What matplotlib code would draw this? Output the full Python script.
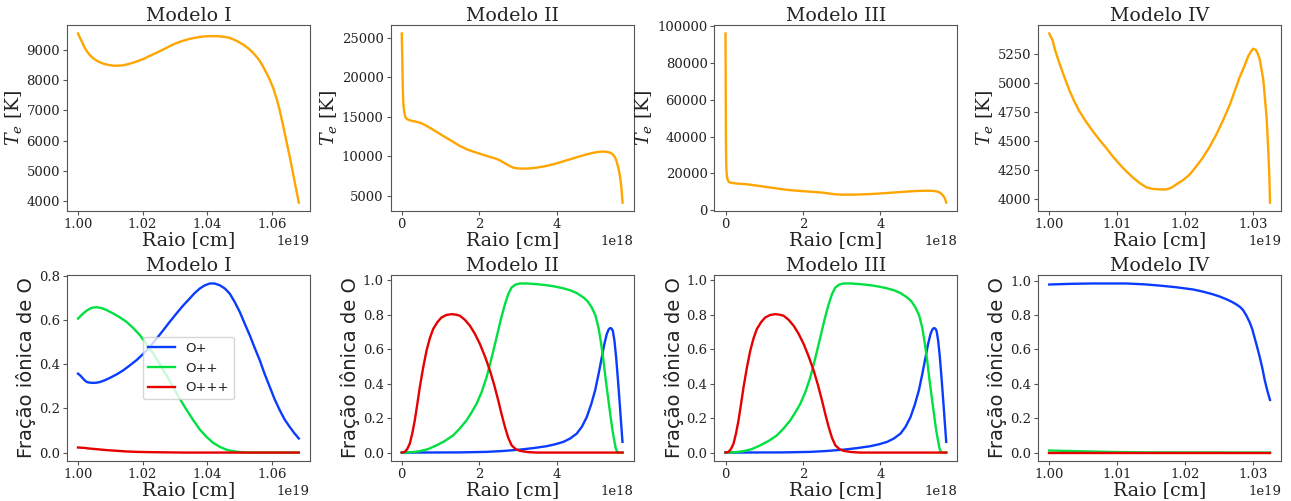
import numpy as np
import matplotlib
matplotlib.use("Agg")
import matplotlib.pyplot as plt
from matplotlib.ticker import MultipleLocator

# ---------------- data ----------------
titles = ["Modelo I", "Modelo II", "Modelo III", "Modelo IV"]

# Top row: electron temperature (radius in units of 1e19 / 1e18 cm)
te1_r = [1.0000, 1.0005, 1.0011, 1.0018, 1.0027, 1.0036, 1.0047, 1.0062, 1.0078, 1.0093,
         1.0109, 1.0125, 1.0140, 1.0155, 1.0171, 1.0186, 1.0202, 1.0222, 1.0243, 1.0270,
         1.0295, 1.0320, 1.0346, 1.0367, 1.0388, 1.0410, 1.0429, 1.0450, 1.0470, 1.0490,
         1.0511, 1.0527, 1.0542, 1.0553, 1.0563, 1.0573, 1.0583, 1.0594, 1.0604, 1.0615,
         1.0625, 1.0635, 1.0645, 1.0656, 1.0666, 1.0675, 1.0684]
te1_t = [9537, 9420, 9285, 9120, 8957, 8830, 8718, 8615, 8541, 8500,
         8476, 8474, 8488, 8525, 8574, 8630, 8695, 8795, 8902, 9040,
         9177, 9280, 9361, 9405, 9439, 9450, 9449, 9432, 9393, 9300,
         9177, 9050, 8902, 8770, 8630, 8450, 8246, 8010, 7754, 7390,
         6990, 6510, 6007, 5460, 4915, 4430, 3951]

te2_r = [0.0, 0.008, 0.017, 0.025, 0.034, 0.045, 0.06, 0.08, 0.10, 0.15, 0.21, 0.33, 0.47,
         0.60, 0.72, 0.90, 1.07, 1.30, 1.50, 1.70, 1.93, 2.10, 2.28, 2.42, 2.53, 2.62, 2.71,
         2.80, 2.88, 3.00, 3.14, 3.30, 3.48, 3.70, 3.91, 4.12, 4.34, 4.56, 4.78, 4.95, 5.12,
         5.26, 5.38, 5.45, 5.51, 5.55, 5.59, 5.63, 5.66, 5.68, 5.70]
te2_t = [25547, 23500, 21210, 19200, 17420, 16400, 15737, 15200, 14895, 14680, 14558, 14430, 14263,
         13980, 13632, 13100, 12579, 11920, 11316, 10850, 10474, 10200, 9926, 9730, 9505, 9250, 9000,
         8760, 8579, 8480, 8453, 8480, 8579, 8760, 9000, 9300, 9632, 9950, 10263, 10470, 10600,
         10600, 10474, 10250, 9842, 9300, 8579, 7600, 6474, 5400, 4158]

te3_r = [0.0, 0.005, 0.01, 0.015, 0.02, 0.03, 0.04, 0.06, 0.09, 0.17, 0.33, 0.47,
         0.60, 0.72, 0.90, 1.07, 1.30, 1.50, 1.70, 1.93, 2.10, 2.28, 2.42, 2.53, 2.62, 2.71,
         2.80, 2.88, 3.00, 3.14, 3.30, 3.48, 3.70, 3.91, 4.12, 4.34, 4.56, 4.78, 4.95, 5.12,
         5.26, 5.38, 5.45, 5.51, 5.55, 5.59, 5.63, 5.66, 5.68, 5.70]
te3_t = [96000, 70000, 41400, 30000, 23400, 20000, 18000, 16300, 15300, 14800, 14430, 14263,
         13980, 13632, 13100, 12579, 11920, 11316, 10850, 10474, 10200, 9926, 9730, 9505, 9250, 9000,
         8760, 8579, 8480, 8453, 8480, 8579, 8760, 9000, 9300, 9632, 9950, 10263, 10470, 10600,
         10600, 10474, 10250, 9842, 9300, 8579, 7600, 6474, 5400, 4158]

te4_r = [1.0000, 1.0005, 1.0008, 1.0012, 1.0016, 1.0020, 1.0025, 1.0030, 1.0037, 1.0044,
         1.0054, 1.0064, 1.0074, 1.0084, 1.0093, 1.0103, 1.0113, 1.0123, 1.0133, 1.0143,
         1.0152, 1.0162, 1.0172, 1.0180, 1.0187, 1.0197, 1.0207, 1.0216, 1.0226, 1.0236,
         1.0246, 1.0256, 1.0266, 1.0273, 1.0280, 1.0287, 1.0293, 1.0297, 1.0300, 1.0304,
         1.0307, 1.0310, 1.0312, 1.0315, 1.0317, 1.0320, 1.0322, 1.0324, 1.0325]
te4_t = [5424, 5365, 5295, 5220, 5152, 5087, 5007, 4932, 4840, 4760,
         4668, 4586, 4510, 4440, 4372, 4305, 4243, 4188, 4140, 4103,
         4090, 4085, 4085, 4100, 4128, 4165, 4214, 4280, 4357, 4450,
         4557, 4680, 4815, 4930, 5044, 5140, 5230, 5270, 5293, 5285,
         5250, 5200, 5130, 5030, 4901, 4700, 4472, 4200, 3972]

# Bottom row: ionic fractions of O
f1_r_plus = [1.0000, 1.0005, 1.0011, 1.0019, 1.0027, 1.0037, 1.0047, 1.0057, 1.0068, 1.0083,
             1.0099, 1.0120, 1.0140, 1.0160, 1.0181, 1.0202, 1.0222, 1.0243, 1.0264, 1.0284,
             1.0305, 1.0325, 1.0346, 1.0361, 1.0377, 1.0392, 1.0408, 1.0423, 1.0439, 1.0455,
             1.0470, 1.0485, 1.0501, 1.0516, 1.0532, 1.0547, 1.0563, 1.0578, 1.0594, 1.0609,
             1.0625, 1.0640, 1.0656, 1.0670, 1.0684]
f1_plus = [0.358, 0.352, 0.343, 0.330, 0.320, 0.317, 0.316, 0.317, 0.320, 0.328,
           0.339, 0.355, 0.373, 0.395, 0.419, 0.448, 0.479, 0.516, 0.555, 0.593,
           0.631, 0.666, 0.699, 0.723, 0.744, 0.758, 0.767, 0.767, 0.759, 0.744,
           0.721, 0.684, 0.638, 0.586, 0.532, 0.476, 0.419, 0.357, 0.298, 0.242,
           0.192, 0.150, 0.116, 0.088, 0.064]
f1_r_pp = [1.0000, 1.0008, 1.0016, 1.0026, 1.0037, 1.0047, 1.0058, 1.0068, 1.0078, 1.0093,
           1.0109, 1.0130, 1.0150, 1.0171, 1.0192, 1.0212, 1.0233, 1.0253, 1.0274, 1.0295,
           1.0315, 1.0336, 1.0357, 1.0377, 1.0398, 1.0418, 1.0439, 1.0460, 1.0480, 1.0505,
           1.0532, 1.0684]
f1_pp = [0.608, 0.620, 0.631, 0.643, 0.653, 0.658, 0.659, 0.657, 0.653, 0.643,
         0.631, 0.613, 0.593, 0.565, 0.532, 0.492, 0.449, 0.401, 0.351, 0.297,
         0.245, 0.194, 0.147, 0.105, 0.071, 0.045, 0.026, 0.013, 0.006, 0.002,
         0.0, 0.0]
f1_r_ppp = [1.0000, 1.0020, 1.0037, 1.0060, 1.0089, 1.0120, 1.0150, 1.0185, 1.0222, 1.0270,
            1.0326, 1.0684]
f1_ppp = [0.023, 0.021, 0.018, 0.015, 0.011, 0.008, 0.005, 0.003, 0.002, 0.001,
          0.0, 0.0]

f2_r_plus = [0.0, 1.5, 2.19, 2.6, 3.05, 3.40, 3.74, 3.96, 4.172, 4.35, 4.517, 4.65, 4.776,
             4.89, 4.991, 5.08, 5.164, 5.23, 5.293, 5.34, 5.379, 5.415, 5.448, 5.49, 5.534,
             5.58, 5.621, 5.66, 5.698]
f2_plus = [0.0, 0.001, 0.004, 0.009, 0.017, 0.026, 0.037, 0.048, 0.062, 0.082, 0.110, 0.150,
           0.206, 0.280, 0.360, 0.455, 0.553, 0.630, 0.688, 0.714, 0.722, 0.720, 0.707, 0.650,
           0.553, 0.425, 0.302, 0.180, 0.062]
f2_r_pp = [0.0, 0.25, 0.466, 0.68, 0.897, 1.11, 1.328, 1.50, 1.672, 1.80, 1.931, 2.06, 2.19,
           2.32, 2.448, 2.56, 2.664, 2.75, 2.836, 2.94, 3.05, 3.25, 3.48, 3.70, 3.914, 4.13,
           4.345, 4.52, 4.69, 4.80, 4.905, 5.00, 5.078, 5.145, 5.207, 5.27, 5.336, 5.39,
           5.44, 5.49, 5.526, 5.56, 5.595, 5.70]
f2_pp = [0.0, 0.002, 0.008, 0.020, 0.042, 0.067, 0.100, 0.140, 0.187, 0.232, 0.283, 0.350,
         0.437, 0.550, 0.669, 0.775, 0.861, 0.920, 0.958, 0.975, 0.981, 0.981, 0.977, 0.972,
         0.965, 0.955, 0.942, 0.925, 0.900, 0.877, 0.842, 0.795, 0.726, 0.635, 0.534, 0.415,
         0.302, 0.210, 0.129, 0.065, 0.023, 0.006, 0.0, 0.0]
f2_r_ppp = [0.0, 0.078, 0.14, 0.207, 0.27, 0.336, 0.40, 0.466, 0.55, 0.638, 0.72, 0.81,
            0.92, 1.026, 1.15, 1.284, 1.40, 1.5, 1.63, 1.759, 1.89, 2.017, 2.15, 2.276,
            2.39, 2.491, 2.58, 2.664, 2.75, 2.836, 2.94, 3.05, 3.25, 3.48, 5.70]
f2_ppp = [0.0, 0.004, 0.020, 0.052, 0.110, 0.187, 0.280, 0.380, 0.490, 0.590, 0.660, 0.717,
          0.757, 0.784, 0.798, 0.803, 0.800, 0.794, 0.770, 0.736, 0.688, 0.630, 0.556, 0.476,
          0.389, 0.302, 0.220, 0.148, 0.085, 0.042, 0.020, 0.010, 0.003, 0.0, 0.0]

f3_r_plus, f3_plus = list(f2_r_plus), list(f2_plus)
f3_r_pp, f3_pp = list(f2_r_pp), list(f2_pp)
f3_r_ppp, f3_ppp = list(f2_r_ppp), list(f2_ppp)

f4_r_plus = [1.0000, 1.0032, 1.0064, 1.0113, 1.0140, 1.0162, 1.0187, 1.0212, 1.0227, 1.0241,
             1.0251, 1.0261, 1.0269, 1.0276, 1.0281, 1.0285, 1.0290, 1.0295, 1.0299, 1.0302,
             1.0306, 1.0310, 1.0314, 1.0317, 1.0321, 1.0325]
f4_plus = [0.977, 0.981, 0.983, 0.983, 0.978, 0.971, 0.961, 0.948, 0.935, 0.920,
           0.907, 0.891, 0.876, 0.860, 0.846, 0.830, 0.798, 0.758, 0.716, 0.672,
           0.614, 0.553, 0.485, 0.425, 0.360, 0.306]
f4_r_pp = [1.0000, 1.0050, 1.0100, 1.0150, 1.0325]
f4_pp = [0.012, 0.007, 0.003, 0.001, 0.0]
f4_r_ppp = [1.0000, 1.0325]
f4_ppp = [0.0, 0.0]

series_labels = ["O+", "O++", "O+++"]
te_scale = [1e19, 1e18, 1e18, 1e19]

# ---------------- styling ----------------
C_TE = "#FFA500"
C_BLUE = "#0a3cff"
C_GREEN = "#00e040"
C_RED = "#e60000"
SPINE = "#555555"
TXT = "#222222"

plt.rcParams["mathtext.fontset"] = "dejavuserif"

fig, axes = plt.subplots(2, 4, figsize=(12.91, 5.01), dpi=100)
fig.subplots_adjust(left=0.0519, right=0.9923, top=0.950, bottom=0.0798,
                    wspace=0.333, hspace=0.344)

te_data = [(te1_r, te1_t), (te2_r, te2_t), (te3_r, te3_t), (te4_r, te4_t)]
frac_data = [
    [(f1_r_plus, f1_plus), (f1_r_pp, f1_pp), (f1_r_ppp, f1_ppp)],
    [(f2_r_plus, f2_plus), (f2_r_pp, f2_pp), (f2_r_ppp, f2_ppp)],
    [(f3_r_plus, f3_plus), (f3_r_pp, f3_pp), (f3_r_ppp, f3_ppp)],
    [(f4_r_plus, f4_plus), (f4_r_pp, f4_pp), (f4_r_ppp, f4_ppp)],
]
x_steps = [0.02e19, 2e18, 2e18, 0.01e19]
te_steps = [1000, 5000, 20000, 250]

TFS = 13.7


def style(ax):
    for s in ax.spines.values():
        s.set_color(SPINE)
    ax.tick_params(colors=SPINE, labelcolor=TXT, labelsize=9.5, length=3, pad=2)
    for lab in ax.get_xticklabels() + ax.get_yticklabels():
        lab.set_family("DejaVu Serif")
    off = ax.xaxis.get_offset_text()
    off.set_family("DejaVu Serif")
    off.set_fontsize(9.5)
    off.set_color(TXT)


for i in range(4):
    ax = axes[0, i]
    r, t = te_data[i]
    ax.plot(np.array(r) * te_scale[i], t, color=C_TE, lw=1.7, solid_joinstyle="round")
    ax.set_title(titles[i], family="DejaVu Serif", fontsize=TFS, pad=3, color=TXT)
    ax.set_xlabel("Raio [cm]", family="DejaVu Serif", fontsize=TFS, color=TXT, labelpad=0)
    ax.set_ylabel("$T_e$ [K]", family="DejaVu Serif", fontsize=TFS, color=TXT, labelpad=2)
    ax.xaxis.set_major_locator(MultipleLocator(x_steps[i]))
    ax.yaxis.set_major_locator(MultipleLocator(te_steps[i]))
    style(ax)

    ax = axes[1, i]
    for (r, f), c, lab in zip(frac_data[i], [C_BLUE, C_GREEN, C_RED], series_labels):
        ax.plot(np.array(r) * te_scale[i], f, color=c, lw=1.7, label=lab,
                solid_joinstyle="round")
    ax.set_title(titles[i], family="DejaVu Serif", fontsize=TFS, pad=3, color=TXT)
    ax.set_xlabel("Raio [cm]", family="DejaVu Serif", fontsize=TFS, color=TXT, labelpad=0)
    ax.set_ylabel("Fração iônica de O", family="DejaVu Sans", fontsize=14, color=TXT,
                  labelpad=2)
    ax.xaxis.set_major_locator(MultipleLocator(x_steps[i]))
    ax.yaxis.set_major_locator(MultipleLocator(0.2))
    style(ax)
    if i == 0:
        leg = ax.legend(loc="center", fontsize=9.5, framealpha=0.8)
        for txt in leg.get_texts():
            txt.set_color(TXT)

fig.savefig("out.png", dpi=100)
